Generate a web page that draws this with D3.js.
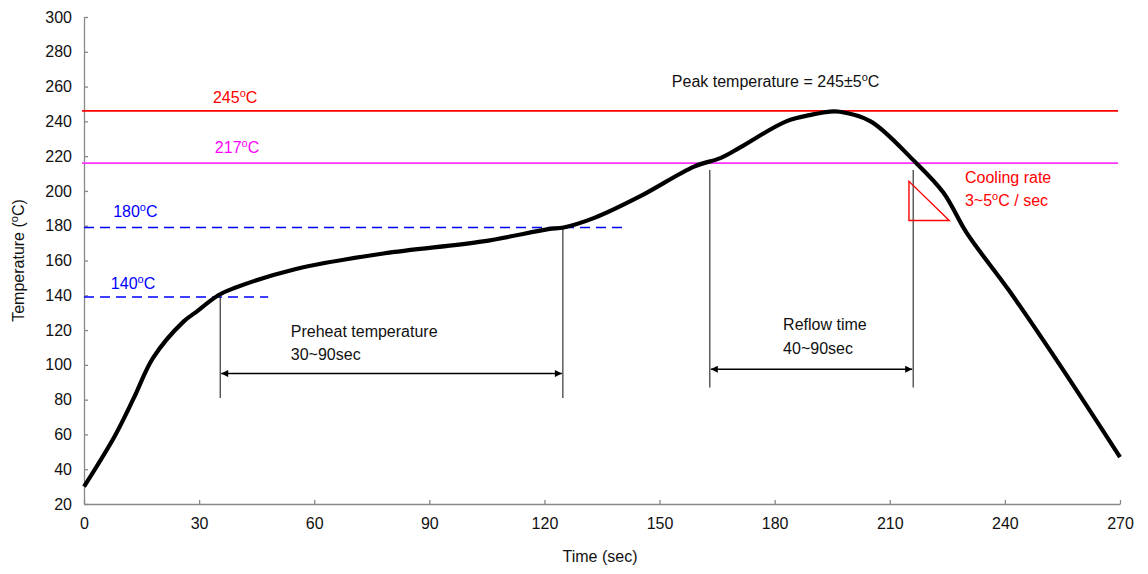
<!doctype html>
<html>
  <head>
    <meta charset="utf-8">
    <title>Reflow profile</title>
    <script src="https://cdn.jsdelivr.net/npm/d3@7"></script>
    <style>
      body { margin: 0; background: #fff; }
      svg { font-family: "Liberation Sans", Arial, sans-serif; }
    </style>
  </head>
  <body>
    <script>
      // profile (sec, degC)
      const time = [0, 8, 13, 18, 26, 29, 35, 39, 55, 78, 104, 121, 125, 133, 145, 159, 166, 171, 183, 190, 194, 197, 205, 216, 224, 230, 241, 254, 270];
      const temp = [30, 59, 81, 104, 125, 130, 140, 144, 155, 164, 171, 178, 179, 184.5, 197, 214, 219, 225, 240, 244, 245.5, 245.5, 240, 218, 199, 176, 143, 101, 47];

      const xTicks = [0, 30, 60, 90, 120, 150, 180, 210, 240, 270];
      const yTicks = [20, 40, 60, 80, 100, 120, 140, 160, 180, 200, 220, 240, 260, 280, 300];

      // reference levels: value, from, to, colour, dashed
      const levels = [
        { v: 246, t0: -0.5, t1: 269.5, color: '#ff0000', dash: null },
        { v: 216, t0: -0.5, t1: 269.5, color: '#ff33ff', dash: null },
        { v: 179, t0: 0, t1: 141, color: '#0000ff', dash: '10,6' },
        { v: 139, t0: 0, t1: 48, color: '#0000ff', dash: '10,6' }
      ];

      // marker lines (time, low, high)
      const markers = [[35.5, 81, 139], [124.8, 81, 179], [163.1, 87, 212], [216.1, 87, 212]];
      // double arrows (from, to, level)
      const spans = [[35.5, 124.8, 95], [163.1, 216.1, 97.5]];
      const triangle = [[215, 205.5], [215, 183], [225.5, 183]];

      const width = 1148, height = 574;
      const svg = d3.select('body').append('svg')
          .attr('width', width)
          .attr('height', height);

      const x = d3.scaleLinear().domain([0, 270]).range([84, 1120]);
      const y = d3.scaleLinear().domain([20, 300]).range([504, 17]);

      const defs = svg.append('defs');
      ['start', 'end'].forEach(k => {
        defs.append('marker')
            .attr('id', 'arr-' + k)
            .attr('viewBox', '0 0 10 10')
            .attr('refX', k === 'end' ? 10 : 0)
            .attr('refY', 5)
            .attr('markerWidth', 9)
            .attr('markerHeight', 7)
            .attr('markerUnits', 'userSpaceOnUse')
            .attr('orient', 'auto')
          .append('path')
            .attr('d', k === 'end' ? 'M0,0L10,5L0,10Z' : 'M10,0L0,5L10,10Z')
            .attr('fill', '#000');
      });

      // axes
      const gx = svg.append('g')
          .attr('transform', `translate(0,${y(20)})`)
          .call(d3.axisBottom(x).tickValues(xTicks).tickSize(-4).tickSizeOuter(0).tickPadding(14));
      const gy = svg.append('g')
          .attr('transform', `translate(${x(0)},0)`)
          .call(d3.axisLeft(y).tickValues(yTicks).tickSize(-4).tickSizeOuter(0).tickPadding(12));
      [gx, gy].forEach(g => {
        g.selectAll('path, line').attr('stroke', '#888').attr('stroke-width', 1.3);
        g.selectAll('text').attr('font-size', 16).attr('fill', '#111')
          .attr('font-family', '"Liberation Sans", Arial, sans-serif');
      });

      // reference lines
      svg.selectAll('.lvl').data(levels).enter().append('line')
          .attr('x1', d => x(d.t0)).attr('x2', d => x(d.t1))
          .attr('y1', d => y(d.v)).attr('y2', d => y(d.v))
          .attr('stroke', d => d.color)
          .attr('stroke-width', d => d.dash ? 1.5 : 1.6)
          .attr('stroke-dasharray', d => d.dash);

      // marker verticals
      svg.selectAll('.mk').data(markers).enter().append('line')
          .attr('x1', d => x(d[0])).attr('x2', d => x(d[0]))
          .attr('y1', d => y(d[1])).attr('y2', d => y(d[2]))
          .attr('stroke', '#222').attr('stroke-width', 1.1);

      svg.selectAll('.span').data(spans).enter().append('line')
          .attr('x1', d => x(d[0]) + 1).attr('x2', d => x(d[1]) - 1)
          .attr('y1', d => y(d[2])).attr('y2', d => y(d[2]))
          .attr('stroke', '#000').attr('stroke-width', 1.5)
          .attr('marker-start', 'url(#arr-start)')
          .attr('marker-end', 'url(#arr-end)');

      svg.append('path')
          .attr('d', d3.line().x(d => x(d[0])).y(d => y(d[1]))(triangle) + 'Z')
          .attr('fill', 'none').attr('stroke', '#ff0000').attr('stroke-width', 1.4);

      // the profile
      const line = d3.line()
          .x((d, i) => x(time[i]))
          .y(d => y(d))
          .curve(d3.curveCatmullRom.alpha(0.5));
      svg.append('path')
          .attr('d', line(temp))
          .attr('fill', 'none')
          .attr('stroke', '#000')
          .attr('stroke-width', 4.2)
          .attr('stroke-linejoin', 'round');

      // text with optional superscript "o"
      function label(sel, parts) {
        let shift = 0;
        parts.forEach(p => {
          const ts = sel.append('tspan');
          if (p === 'o') {
            ts.attr('font-size', 11).attr('dy', -6).text('o');
            shift = 6;
          } else {
            if (shift) ts.attr('dy', shift);
            shift = 0;
            ts.text(p);
          }
        });
        return sel;
      }
      function note(t, v, parts, color) {
        const txt = svg.append('text')
            .attr('x', x(t)).attr('y', y(v))
            .attr('font-size', 16)
            .attr('fill', color);
        return label(txt, parts);
      }

      note(33.6, 250.5, ['245', 'o', 'C'], '#ff0000');
      note(34.1, 221.8, ['217', 'o', 'C'], '#ff00ff');
      note(7.6, 185, ['180', 'o', 'C'], '#0000ff');
      note(7.0, 143.6, ['140', 'o', 'C'], '#0000ff');
      note(153.2, 259.9, ['Peak temperature = 245\u00b15', 'o', 'C'], '#111');
      note(229.6, 204.5, ['Cooling rate'], '#ff0000');
      note(229.6, 191.3, ['3~5', 'o', 'C / sec'], '#ff0000');
      note(53.9, 116, ['Preheat temperature'], '#111');
      note(53.9, 102.8, ['30~90sec'], '#111');
      note(182.2, 120, ['Reflow time'], '#111');
      note(182.2, 106.2, ['40~90sec'], '#111');

      // axis titles
      svg.append('text')
          .attr('x', (x(0) + x(270)) / 2 - 2)
          .attr('y', 562)
          .attr('text-anchor', 'middle')
          .attr('font-size', 16)
          .attr('fill', '#111')
          .text('Time (sec)');

      const yt = svg.append('text')
          .attr('transform', `translate(24,${(y(20) + y(300)) / 2}) rotate(-90)`)
          .attr('text-anchor', 'middle')
          .attr('font-size', 16)
          .attr('fill', '#111');
      label(yt, ['Temperature (', 'o', 'C)']);
    </script>
  </body>
</html>
